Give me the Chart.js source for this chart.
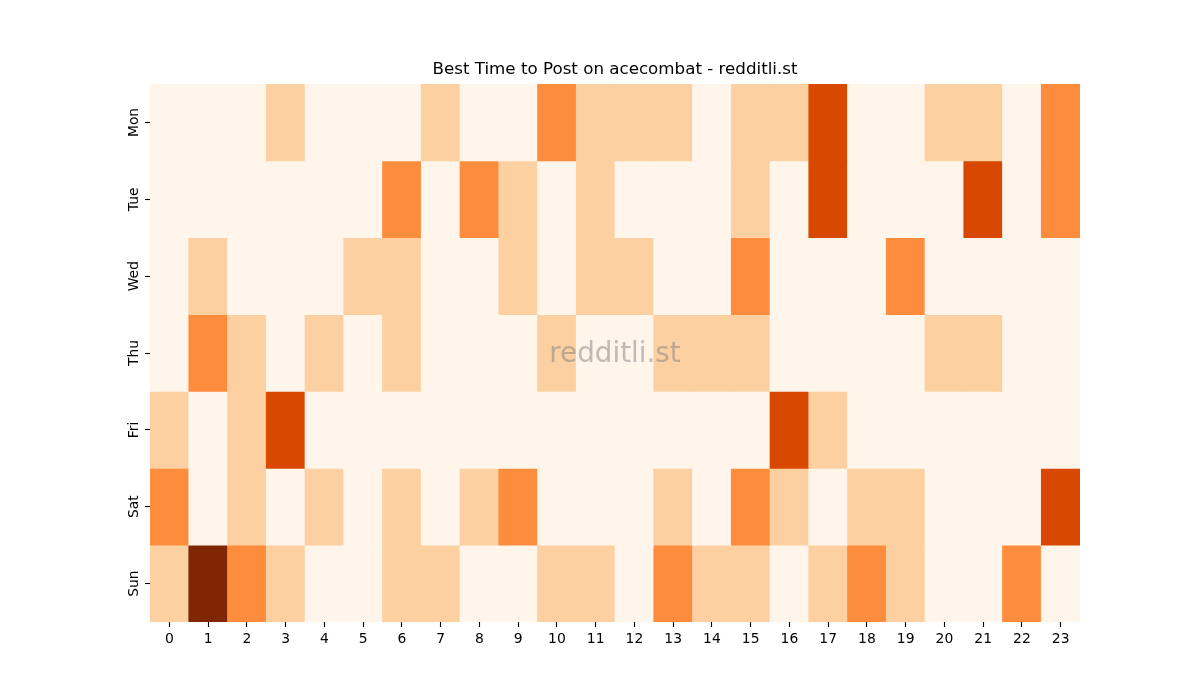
<!DOCTYPE html>
<html>
<head>
<meta charset="utf-8">
<script src="https://cdn.jsdelivr.net/npm/chart.js@4/dist/chart.umd.min.js"></script>
<style>
    html, body { margin: 0; padding: 0; background: #ffffff; }
    #wrap { width: 1200px; height: 700px; }
</style>
</head>
<body>
<div id="wrap"><canvas id="heatmap"></canvas></div>
<script>
// posts per day / hour
const days = ['Mon', 'Tue', 'Wed', 'Thu', 'Fri', 'Sat', 'Sun'];
const hours = ['0', '1', '2', '3', '4', '5', '6', '7', '8', '9', '10', '11',
               '12', '13', '14', '15', '16', '17', '18', '19', '20', '21', '22', '23'];

const mon = [0, 0, 0, 1, 0, 0, 0, 1, 0, 0, 2, 1, 1, 1, 0, 1, 1, 3, 0, 0, 1, 1, 0, 2];
const tue = [0, 0, 0, 0, 0, 0, 2, 0, 2, 1, 0, 1, 0, 0, 0, 1, 0, 3, 0, 0, 0, 3, 0, 2];
const wed = [0, 1, 0, 0, 0, 1, 1, 0, 0, 1, 0, 1, 1, 0, 0, 2, 0, 0, 0, 2, 0, 0, 0, 0];
const thu = [0, 2, 1, 0, 1, 0, 1, 0, 0, 0, 1, 0, 0, 1, 1, 1, 0, 0, 0, 0, 1, 1, 0, 0];
const fri = [1, 0, 1, 3, 0, 0, 0, 0, 0, 0, 0, 0, 0, 0, 0, 0, 3, 1, 0, 0, 0, 0, 0, 0];
const sat = [2, 0, 1, 0, 1, 0, 1, 0, 1, 2, 0, 0, 0, 1, 0, 2, 1, 0, 1, 1, 0, 0, 0, 3];
const sun = [1, 4, 2, 1, 0, 0, 1, 1, 0, 0, 1, 1, 0, 2, 1, 1, 0, 1, 2, 1, 0, 0, 2, 0];

const filas = [mon, tue, wed, thu, fri, sat, sun];

// Oranges colormap, one step per count (vmax = 4)
const naranjas = ['#fff5eb', '#fdd0a2', '#fd8d3c', '#d94801', '#7f2704'];

const FUENTE = "'DejaVu Sans', sans-serif";

const datasets = filas.map((valores, d) => ({
    label: days[d],
    data: valores.map(() => [d, d + 1]),
    backgroundColor: valores.map(v => naranjas[v]),
    borderWidth: 0,
    barPercentage: 1,
    categoryPercentage: 1,
    grouped: false
}));

// watermark in the middle of the plot
const marcaAgua = {
    id: 'marcaAgua',
    afterDatasetsDraw(chart) {
        const { ctx, chartArea } = chart;
        ctx.save();
        ctx.font = `27.8px ${FUENTE}`;
        ctx.fillStyle = 'rgba(128,128,128,0.5)';
        ctx.textAlign = 'center';
        ctx.textBaseline = 'middle';
        ctx.fillText('redditli.st', (chartArea.left + chartArea.right) / 2, (chartArea.top + chartArea.bottom) / 2 + 2);
        ctx.restore();
    }
};

new Chart(document.getElementById('heatmap'), {
    type: 'bar',
    data: { labels: hours, datasets },
    plugins: [marcaAgua],
    options: {
        responsive: true,
        maintainAspectRatio: false,
        animation: false,
        devicePixelRatio: 1,
        layout: { padding: { left: 110, right: 120, top: 60, bottom: 38 } },
        plugins: {
            legend: { display: false },
            tooltip: { enabled: false },
            title: {
                display: true,
                text: 'Best Time to Post on acecombat - redditli.st',
                color: '#000000',
                fullSize: false,
                font: { family: FUENTE, size: 16.7, weight: 'normal', lineHeight: 1.2 },
                padding: { top: 0, bottom: 4 }
            }
        },
        scales: {
            x: {
                type: 'category',
                offset: true,
                border: { display: false },
                grid: {
                    offset: false,
                    drawOnChartArea: false,
                    drawTicks: true,
                    tickLength: 5,
                    tickColor: '#000000',
                    tickWidth: 1.1
                },
                ticks: {
                    color: '#000000',
                    font: { family: FUENTE, size: 13.9 },
                    padding: 4,
                    maxRotation: 0,
                    minRotation: 0,
                    autoSkip: false
                },
                afterFit(scale) { scale.height = 40; }
            },
            y: {
                type: 'linear',
                reverse: true,
                min: 0,
                max: 7,
                border: { display: false },
                grid: {
                    drawOnChartArea: false,
                    drawTicks: true,
                    tickLength: 5,
                    tickColor: '#000000',
                    tickWidth: 1.1
                },
                afterBuildTicks(scale) {
                    scale.ticks = days.map((_, i) => ({ value: i + 0.5 }));
                },
                ticks: {
                    color: '#000000',
                    font: { family: FUENTE, size: 13.9 },
                    padding: -5,
                    minRotation: 90,
                    maxRotation: 90,
                    crossAlign: 'center',
                    callback: (valor) => days[Math.floor(valor)]
                },
                afterFit(scale) { scale.width = 40; }
            }
        }
    }
});
</script>
</body>
</html>
